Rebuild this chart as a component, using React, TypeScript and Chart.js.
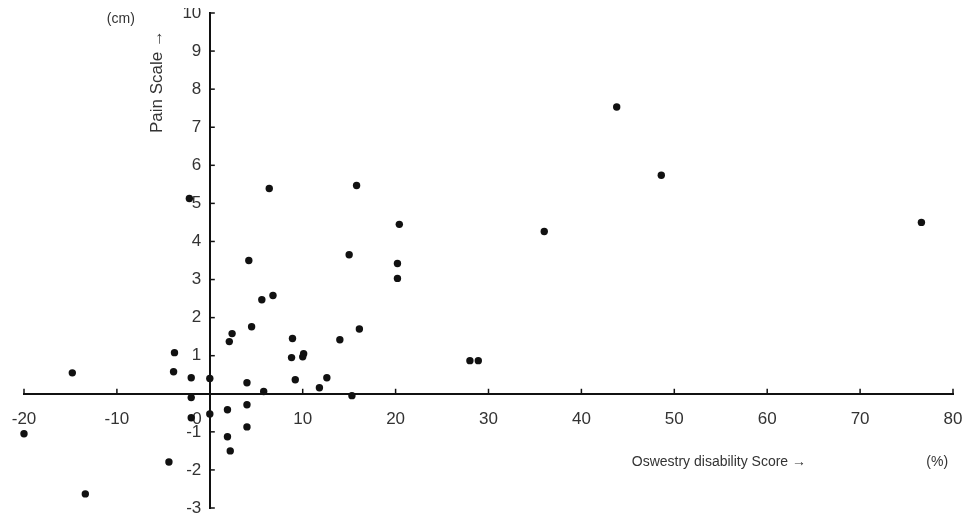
import React, { useEffect, useRef } from "react";
import { Chart, registerables } from "chart.js";

Chart.register(...registerables);

// Oswestry disability score change (%)
const oswestryScores: number[] = [
  -20, -14.8, -13.4, -3.8, -3.9, -4.4, -2.0, -2.0, -2.0, 0, 0, 2.1, 2.4, 1.9, 1.9, 2.2,
  4.2, 4.5, 4.0, 4.0, 4.0, 5.6, 6.8, 5.8, 8.9, 8.8, 10.0, 10.1, 9.2, 11.8, 12.6, 14.0,
  16.1, 15.3, 15.0, 15.8, 20.4, 20.2, 20.2, 28.0, 28.9, 36.0, 43.8, 48.6, 76.6, -2.2, 6.4,
];
// Pain scale change (cm)
const painScores: number[] = [
  -1.05, 0.55, -2.63, 1.08, 0.58, -1.79, 0.42, -0.1, -0.63, 0.4, -0.53, 1.37, 1.58, -0.42, -1.13, -1.5,
  3.5, 1.76, 0.29, -0.29, -0.87, 2.47, 2.58, 0.06, 1.45, 0.95, 0.97, 1.05, 0.37, 0.16, 0.42, 1.42,
  1.7, -0.05, 3.65, 5.47, 4.45, 3.42, 3.03, 0.87, 0.87, 4.26, 7.53, 5.74, 4.5, 5.13, 5.39,
];

const xTickValues: number[] = [-20, -10, 0, 10, 20, 30, 40, 50, 60, 70, 80];
const yTickValues: number[] = [-3, -2, -1, 0, 1, 2, 3, 4, 5, 6, 7, 8, 9, 10];

const yTitle = "Pain Scale \u2192";
const yUnit = "(cm)";
const xTitle = "Oswestry disability Score \u2192";
const xUnit = "(%)";

const FONT = "'Liberation Sans', Arial, sans-serif";

const decorPlugin = {
  id: "decor",
  afterDraw(chart: any) {
    const { ctx } = chart;
    const xs = chart.scales.x;
    const ys = chart.scales.y;
    const x0 = xs.getPixelForValue(0);
    const y0 = ys.getPixelForValue(0);
    ctx.save();
    ctx.strokeStyle = "#111";
    ctx.lineWidth = 1.5;
    // inward tick marks
    xTickValues.forEach((v) => {
      if (v === 0) return;
      const px = xs.getPixelForValue(v);
      ctx.beginPath();
      ctx.moveTo(px, y0);
      ctx.lineTo(px, y0 - 5);
      ctx.stroke();
    });
    yTickValues.forEach((v) => {
      if (v === 0) return;
      const py = ys.getPixelForValue(v);
      ctx.beginPath();
      ctx.moveTo(x0, py);
      ctx.lineTo(x0 + 5, py);
      ctx.stroke();
    });
    // titles
    ctx.fillStyle = "#333";
    ctx.font = `17px ${FONT}`;
    ctx.textAlign = "center";
    ctx.textBaseline = "middle";
    ctx.save();
    ctx.translate(x0 - 52, ys.getPixelForValue(8.2));
    ctx.rotate(-Math.PI / 2);
    ctx.fillText(yTitle, 0, 0);
    ctx.restore();
    ctx.font = `14px ${FONT}`;
    ctx.fillText(yUnit, x0 - 89, ys.getPixelForValue(9.85));
    ctx.fillText(xTitle, xs.getPixelForValue(54.8), ys.getPixelForValue(-1.8));
    ctx.fillText(xUnit, xs.getPixelForValue(78.3), ys.getPixelForValue(-1.8));
    ctx.restore();
  },
};

export default function App() {
  const canvasRef = useRef<HTMLCanvasElement | null>(null);

  useEffect(() => {
    if (!canvasRef.current) return;
    const zeroPad = (scale: any) => {
      scale.paddingTop = 0;
      scale.paddingBottom = 0;
      scale.paddingLeft = 0;
      scale.paddingRight = 0;
    };
    const chart = new Chart(canvasRef.current, {
      type: "scatter",
      data: {
        datasets: [
          {
            label: "Patients",
            data: oswestryScores.map((x, i) => ({ x, y: painScores[i] })),
            backgroundColor: "#111",
            borderWidth: 0,
            pointRadius: 3.7,
            pointHoverRadius: 3.7,
            clip: false as any,
          },
        ],
      },
      options: {
        animation: false,
        responsive: true,
        maintainAspectRatio: false,
        layout: { padding: { left: 16, right: 9, top: 5, bottom: 6 } },
        plugins: { legend: { display: false }, tooltip: { enabled: false } },
        scales: {
          x: {
            type: "linear",
            position: { y: 0 } as any,
            min: -20,
            max: 80,
            afterBuildTicks: (scale: any) => {
              scale.ticks = xTickValues.map((value) => ({ value }));
            },
            afterFit: zeroPad,
            grid: { drawOnChartArea: false, drawTicks: false },
            border: { display: true, color: "#111", width: 2 },
            ticks: {
              padding: 15,
              color: "#333",
              font: { family: FONT, size: 17 },
              maxRotation: 0,
              autoSkip: false,
              callback: (v: any) => (Number(v) === 0 ? "0\u2003\u2002" : String(v)),
            },
          },
          y: {
            type: "linear",
            position: { x: 0 } as any,
            min: -3,
            max: 10,
            afterBuildTicks: (scale: any) => {
              scale.ticks = yTickValues.map((value) => ({ value }));
            },
            afterFit: zeroPad,
            grid: { drawOnChartArea: false, drawTicks: false },
            border: { display: true, color: "#111", width: 2 },
            ticks: {
              padding: 8,
              color: "#333",
              font: { family: FONT, size: 17 },
              autoSkip: false,
              callback: (v: any) => (Number(v) === 0 ? "" : String(v) + "\u2002"),
            },
          },
        },
      },
      plugins: [decorPlugin],
    });
    return () => chart.destroy();
  }, []);

  return (
    <div style={{ position: "relative", width: "100%", height: "506px", background: "#fff" }}>
      <canvas ref={canvasRef} />
    </div>
  );
}
